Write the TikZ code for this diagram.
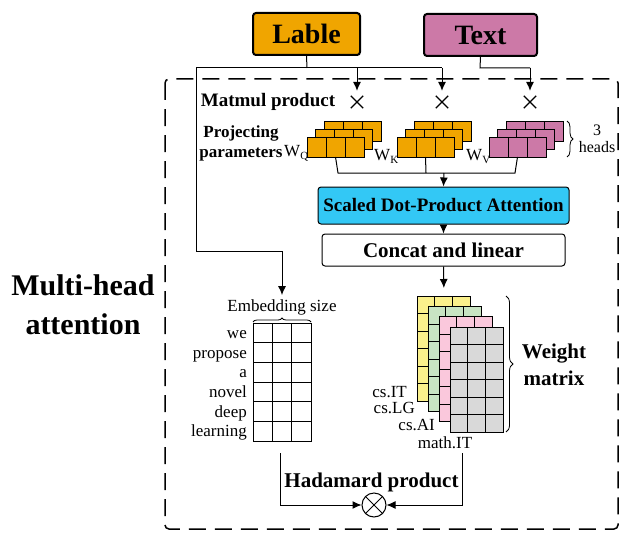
\documentclass[tikz,border=0pt]{standalone}
\usepackage{fontspec}
\setmainfont{Liberation Serif}
\usetikzlibrary{arrows.meta,shapes.misc,decorations.pathreplacing}

\definecolor{lblorange}{RGB}{240,165,0}
\definecolor{txtpink}{RGB}{204,121,167}
\definecolor{sdpacyan}{RGB}{51,200,245}
\definecolor{wyellow}{RGB}{250,240,140}
\definecolor{wgreen}{RGB}{200,228,195}
\definecolor{wpink}{RGB}{250,200,220}
\definecolor{wgray}{RGB}{217,217,217}

\newcommand\fs[1]{\fontsize{#1}{#1}\selectfont}

% one stack of three projection heads: #1 left edge of front layer, #2 fill, #3 name of output point
\newcommand\projblock[3]{%
  \foreach \k in {2,1,0}{
    \foreach \c in {0,1,2}{
      \draw[cell, fill=#2] ({#1+8.5*\k+19*\c},{137-8*\k}) rectangle ++(19,20);
    }
  }
  \coordinate (#3) at ({#1+28.5},157);
}

\begin{document}
\begin{tikzpicture}[x=1pt,y=-1pt,
  inbox/.style={draw, line width=2pt, rounded corners=3pt, minimum height=42pt,
                font=\fs{28}\bfseries, inner sep=0pt},
  flowbox/.style={draw, line width=1pt, rounded corners=3pt, inner sep=0pt},
  conn/.style={line width=1pt},
  arr/.style={conn, -{Latex[length=9pt,width=8pt]}},
  mul/.style={cross out, draw, line width=1.3pt, minimum size=11pt, inner sep=0pt},
  lbl/.style={font=\fs{17}, inner sep=0pt},
  blbl/.style={font=\fs{20}\bfseries, inner sep=0pt},
  cell/.style={line width=0.8pt},
  brc/.style={decorate, line width=0.8pt}
]
\useasboundingbox (0,0) rectangle (620,532);

% inputs
\node[inbox, fill=lblorange, minimum width=107pt] (lable) at (306.5,34) {Lable};
\node[inbox, fill=txtpink, minimum width=113pt] (text) at (480.5,35) {Text};

% multi-head attention frame
\draw[line width=1.5pt, dash pattern=on 17pt off 9pt, rounded corners=4pt]
  (165,79) rectangle (618,529);
\node[font=\fontsize{30}{39}\selectfont\bfseries, align=center, inner sep=0pt]
  (mha) at (83,305) {Multi-head\\attention};

% matmul products
\node[blbl, font=\fs{19}\bfseries] (mmtxt) at (268,102) {Matmul product};
\node[mul] (m1) at (357,102) {};
\node[mul] (m2) at (442,102) {};
\node[mul] (m3) at (530,102) {};

\coordinate (ls) at (307,68);
\coordinate (lw) at (196,68);
\coordinate (l1) at (357,68);
\coordinate (l2) at (442,68);
\coordinate (ts) at (480,68);
\coordinate (t3) at (530,68);
\draw[conn] (lable.south) -- (ls);
\draw[conn] (lw) -- (l2);
\draw[arr, shorten >=5pt] (l1) -- (m1);
\draw[arr, shorten >=5pt] (l2) -- (m2);
\draw[conn] (text.south) -- (ts) -- (t3);
\draw[arr, shorten >=5pt] (t3) -- (m3);

% projecting parameters
\node[font=\fontsize{17}{20}\selectfont\bfseries, align=center, inner sep=0pt]
  (ptxt) at (241,143) {Projecting\\parameters};
\projblock{307}{lblorange}{pq}
\projblock{397}{lblorange}{pk}
\projblock{489}{txtpink}{pv}
\node[lbl, anchor=base west] (wq) at (284,156) {W{\fs{11}\raisebox{-3pt}{Q}}};
\node[lbl, anchor=base west] (wk) at (374,160) {W{\fs{11}\raisebox{-3pt}{K}}};
\node[lbl, anchor=base west] (wv) at (466,160) {W{\fs{11}\raisebox{-3pt}{V}}};
\draw[brc, decoration={brace, amplitude=6pt}] (567,121) -- (567,157);
\node[lbl, font=\fontsize{16}{17}\selectfont, align=center] (heads) at (597,139) {3\\heads};

% attention and concat
\node[flowbox, fill=sdpacyan, minimum width=251pt, minimum height=37pt,
      font=\fs{19}\bfseries] (sdpa) at (443.5,205.5) {Scaled Dot-Product Attention};
\node[flowbox, fill=white, minimum width=243pt, minimum height=32pt,
      font=\fs{21}\bfseries] (cat) at (443.5,250) {Concat and linear};

\coordinate (pj1) at (338,173);
\coordinate (pj2) at (426,173);
\coordinate (pj3) at (515,173);
\coordinate (pjm) at (444,173);
\draw[conn] (pq) -- (pj1) -- (pj3) -- (pv);
\draw[conn] (pk) -- (pj2);
\draw[arr] (pjm) -- (sdpa.north);
\draw[arr] (sdpa.south) -- (cat.north);

% embedding matrix
\node[lbl] (emb) at (282,307) {Embedding size};
\coordinate (e1) at (196,251);
\coordinate (e2) at (282,251);
\draw[arr, shorten >=4pt] (lw) -- (e1) -- (e2) -- (emb.north);
\draw[brc, decoration={brace, amplitude=4pt}] (253,322) -- (311,322);
\foreach \r in {0,...,5}{
  \foreach \c in {0,1,2}{
    \draw[cell] ({253+19.33*\c},{323+19.67*\r}) rectangle ++(19.33,19.67);
  }
}
\foreach \w [count=\i from 0] in {we,propose,a,novel,deep,learning}{
  \node[lbl, anchor=base east] at (247,{338.5+19.67*\i}) {\w};
}

% weight matrices
\coordinate (wtop) at (444,296);
\draw[arr, shorten >=8pt] (cat.south) -- (wtop);
\foreach \L/\col in {0/wyellow,1/wgreen,2/wpink,3/wgray}{
  \foreach \r in {0,...,5}{
    \foreach \c in {0,1,2}{
      \draw[cell, fill=\col] ({417+11*\L+17.67*\c},{296+10.4*\L+17.5*\r}) rectangle ++(17.67,17.5);
    }
  }
}
\node[lbl, anchor=base east] (cit) at (407,397) {cs.IT};
\node[lbl, anchor=base east] (clg) at (415,413) {cs.LG};
\node[lbl, anchor=base east] (cai) at (435,430) {cs.AI};
\node[lbl, anchor=base] (mit) at (445,448) {math.IT};
\draw[brc, decoration={brace, amplitude=7pt}] (506,296) -- (506,432);
\node[font=\fontsize{21}{27}\selectfont\bfseries, align=center, inner sep=0pt]
  (wm) at (554,365) {Weight\\matrix};

% hadamard product
\node[circle, draw, line width=1pt, minimum size=24pt, inner sep=0pt] (had) at (374,505) {};
\draw[line width=0.9pt] (had.north east) -- (had.south west);
\draw[line width=0.9pt] (had.north west) -- (had.south east);
\node[blbl, font=\fs{21}\bfseries] (hadtxt) at (371.5,482) {Hadamard product};
\coordinate (eo) at (280,453);
\coordinate (eb) at (280,505);
\coordinate (wo) at (462,453);
\coordinate (wb) at (462,505);
\draw[arr] (eo) -- (eb) -- (had);
\draw[arr] (wo) -- (wb) -- (had);
\end{tikzpicture}
\end{document}
